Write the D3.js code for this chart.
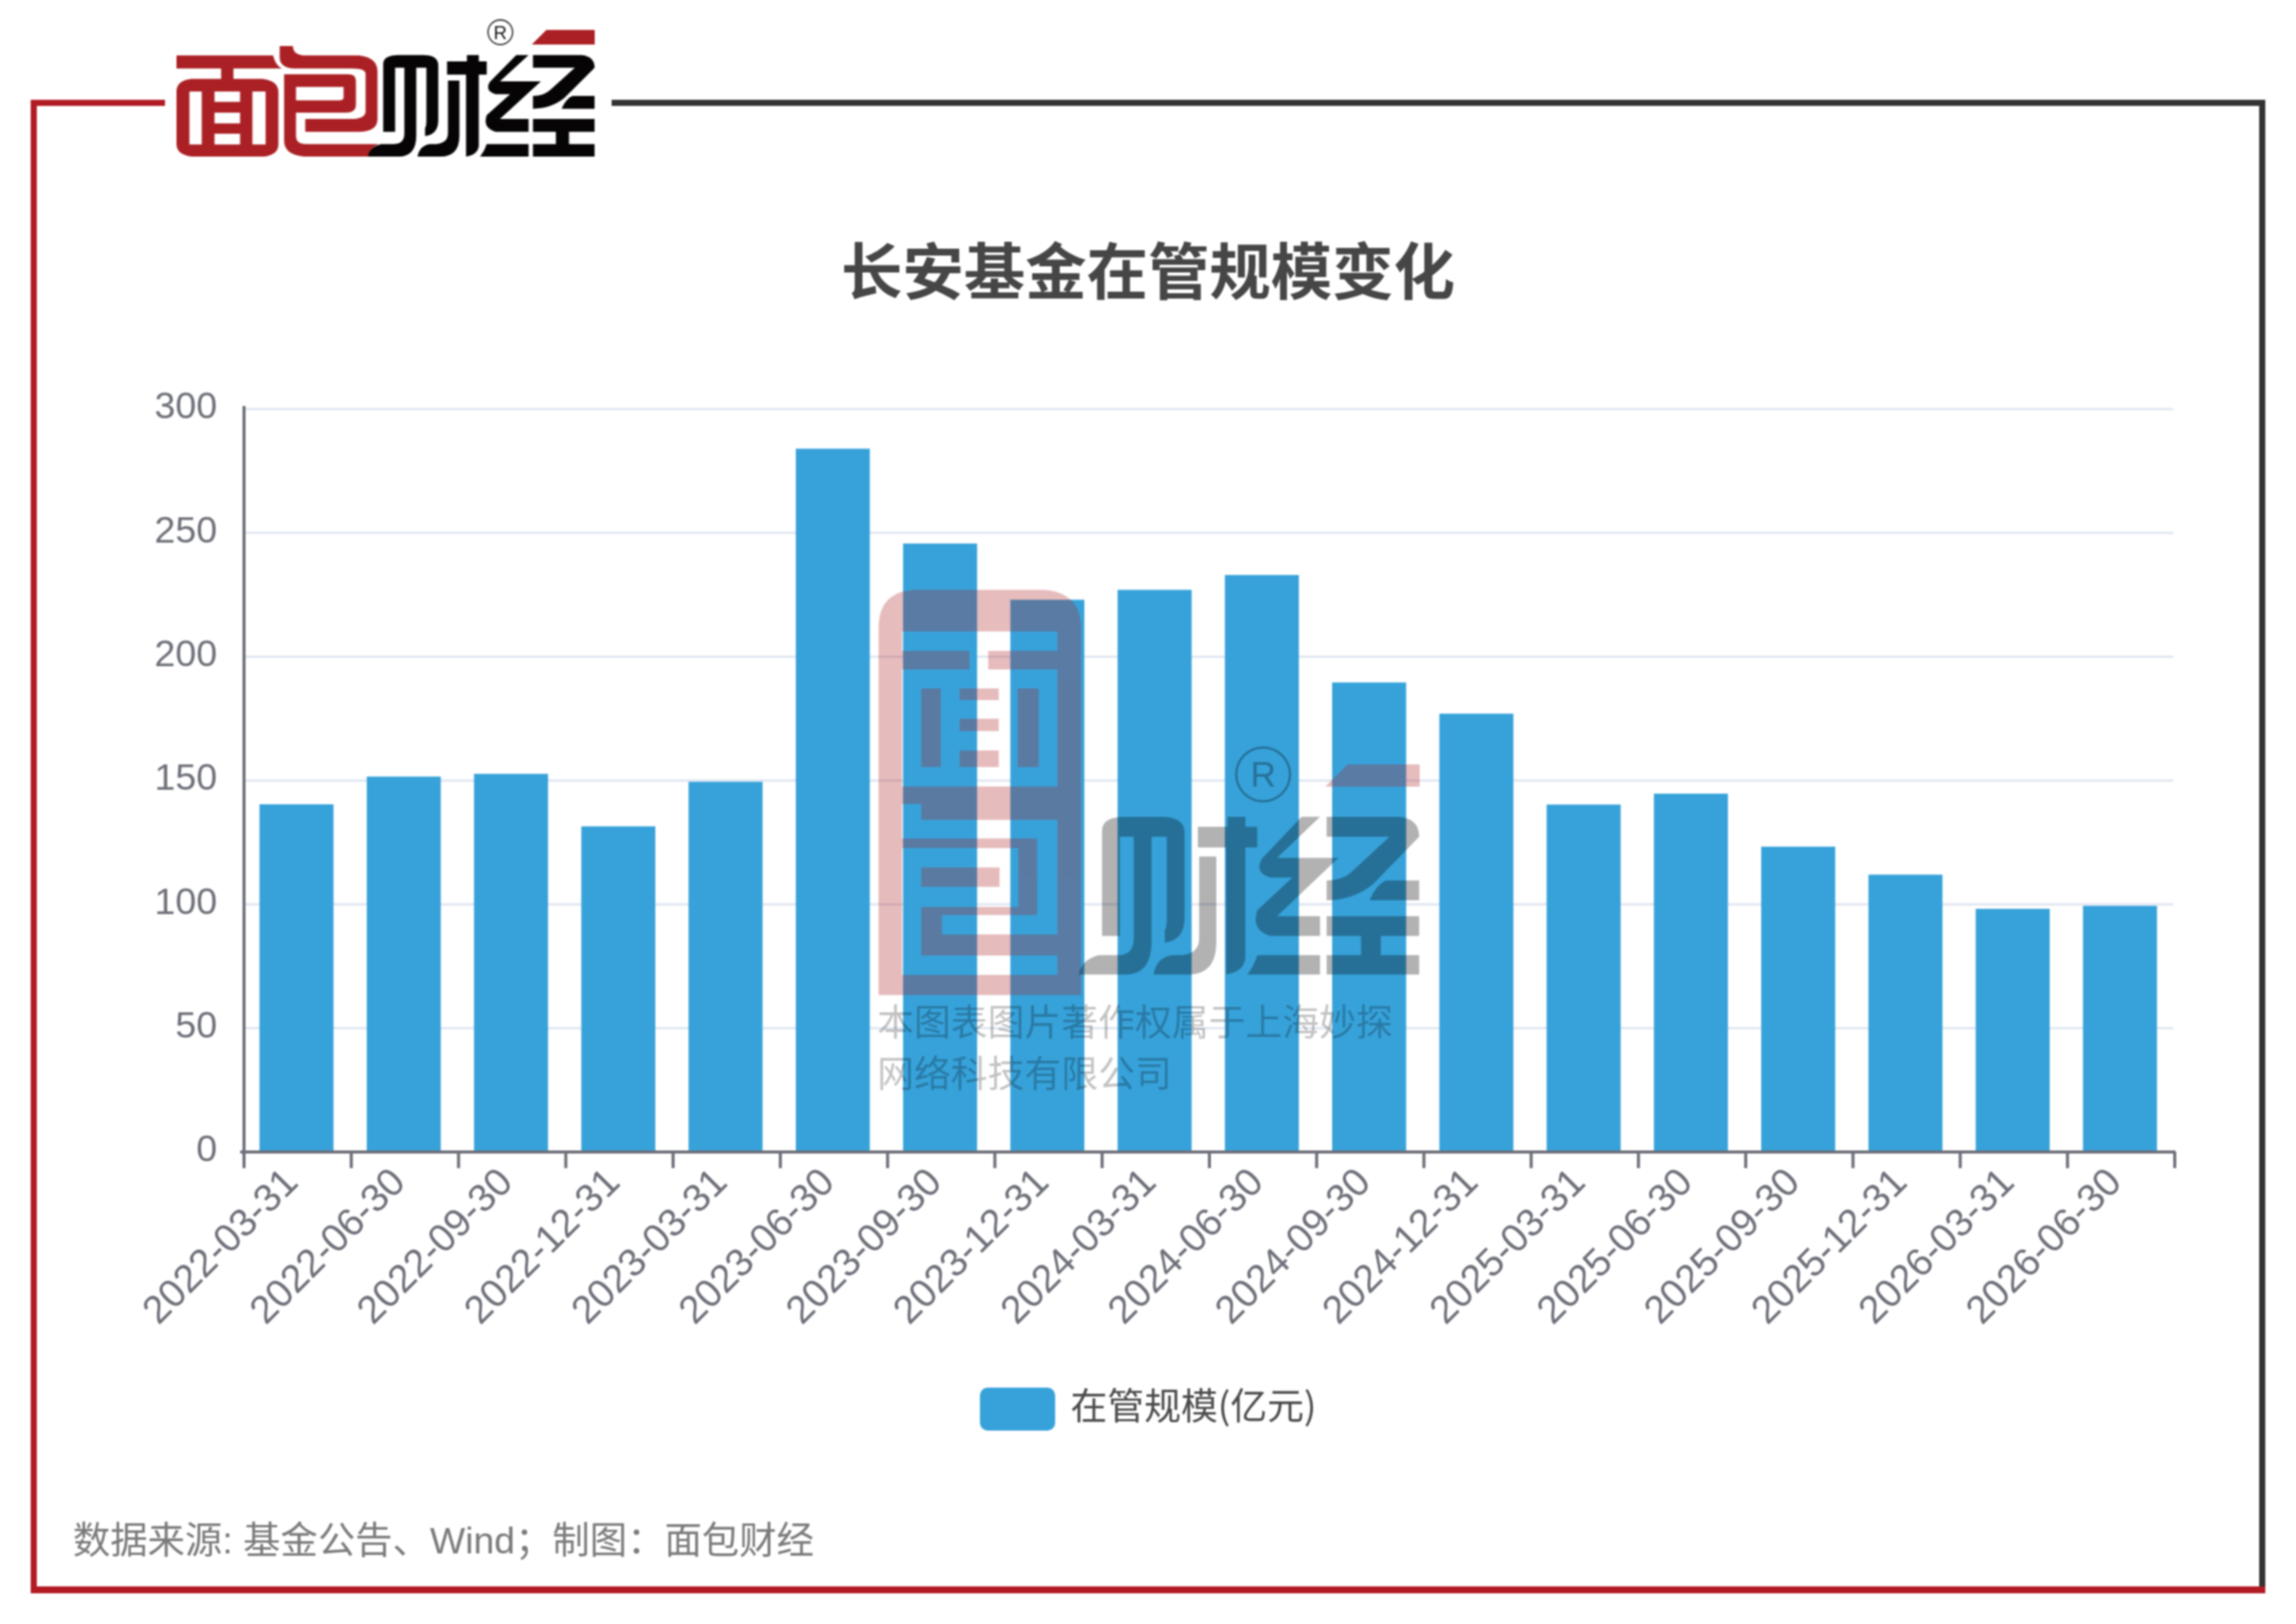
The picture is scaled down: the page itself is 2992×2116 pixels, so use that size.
<!DOCTYPE html>
<html><head><meta charset="utf-8">
<script src="https://cdn.jsdelivr.net/npm/d3@7/dist/d3.min.js"></script>
<style>
html,body{margin:0;padding:0;background:#fff;}
svg{display:block;}
.blur{filter:blur(1px);}
text{font-family:"Liberation Sans","Noto Sans CJK SC",sans-serif;}
</style></head><body><div id="chart"></div>
<script>
const categories=["2022-03-31","2022-06-30","2022-09-30","2022-12-31","2023-03-31","2023-06-30","2023-09-30","2023-12-31","2024-03-31","2024-06-30","2024-09-30","2024-12-31","2025-03-31","2025-06-30","2025-09-30","2025-12-31","2026-03-31","2026-06-30"];
const aumValues=[140.4,151.6,152.7,131.5,149.5,284,245.7,223,227,233,189.6,177,140.3,144.7,123.3,112,98.2,99.4];
const yTicks=[0,50,100,150,200,250,300];
const titleText="长安基金在管规模变化";
const legendText="在管规模(亿元)";
const sourceText="数据来源: 基金公告、Wind；制图：面包财经";
const watermarkLines=["本图表图片著作权属于上海妙探","网络科技有限公司"];

const W=2992,H=2116;
const RED="#AB2024",FRAME_RED="#B21B24",DARK="#333333",BLUE="#37A2DA",AXIS="#6E7079",GRID="#E0E6F1";
const svg=d3.select("#chart").append("svg").attr("width",W).attr("height",H).attr("viewBox",`0 0 ${W} ${H}`);
const root=svg.append("g").attr("class","blur");

// frame
const line=(x1,y1,x2,y2,c,w)=>root.append("line").attr("x1",x1).attr("y1",y1).attr("x2",x2).attr("y2",y2).attr("stroke",c).attr("stroke-width",w);
line(797,134,2952,134,DARK,8);
line(2948,130,2948,2068,DARK,8);
line(40,134,215,134,FRAME_RED,8);
line(44,130,44,2076,FRAME_RED,8);
line(40,2071.5,2952,2071.5,FRAME_RED,9);

// scales
const margin={left:318,right:2834,top:533,bottom:1501};
const x=d3.scaleBand().domain(categories).range([margin.left,margin.right]).paddingInner(0.31).paddingOuter(0.155);
const y=d3.scaleLinear().domain([0,300]).range([margin.bottom,margin.top]);
const barNudge=-1.5;

// grid
root.append("g").selectAll("line").data(yTicks.filter(d=>d>0)).join("line")
  .attr("x1",margin.left+2).attr("x2",margin.right-2)
  .attr("y1",d=>y(d)).attr("y2",d=>y(d)).attr("stroke",GRID).attr("stroke-width",3);

// bars
root.append("g").attr("transform",`translate(${barNudge},0)`).selectAll("rect").data(aumValues).join("rect")
  .attr("x",(d,i)=>x(categories[i])).attr("width",x.bandwidth())
  .attr("y",d=>y(d)).attr("height",d=>y(0)-y(d)).attr("fill",BLUE);

// y axis
const yAxis=root.append("g").attr("transform",`translate(${margin.left},0)`)
  .call(d3.axisLeft(y).tickValues(yTicks).tickSize(0).tickPadding(35));
yAxis.select(".domain").attr("stroke",AXIS).attr("stroke-width",4).attr("d",`M0,${margin.top-4}V${margin.bottom}`);
yAxis.selectAll("text").attr("font-size",49).attr("fill",AXIS).attr("dy","0.24em")
  .style("font-family",'"Liberation Sans",sans-serif');

// x axis
const xAxis=root.append("g").attr("transform",`translate(0,${margin.bottom})`)
  .call(d3.axisBottom(x).tickSize(0).tickPadding(0));
xAxis.select(".domain").attr("stroke",AXIS).attr("stroke-width",4).attr("d",`M${margin.left-5},0H${margin.right+1}`);
const step=x.step(), gap=(step-x.bandwidth())/2;
const edges=categories.map(c=>x(c)-gap).concat([margin.right]);
xAxis.append("g").selectAll("line").data(edges).join("line")
  .attr("x1",d=>d).attr("x2",d=>d).attr("y1",0).attr("y2",21).attr("stroke",AXIS).attr("stroke-width",4);
xAxis.selectAll(".tick text")
  .attr("text-anchor","end").attr("font-size",51).attr("fill",AXIS).attr("y",0).attr("dy",0)
  .attr("transform","translate(3,42) rotate(-45)")
  .style("font-family",'"Liberation Sans",sans-serif');

// title, legend, source
root.append("text").text(titleText).attr("x",1496).attr("y",348).attr("text-anchor","middle").attr("dominant-baseline","central")
  .attr("font-size",80).attr("font-weight",700).attr("fill","#464646").style("font-family",'"Noto Sans CJK SC",sans-serif');
root.append("rect").attr("x",1277).attr("y",1808).attr("width",98).attr("height",56).attr("rx",10).attr("fill",BLUE);
root.append("text").text(legendText).attr("x",1395).attr("y",1828).attr("dominant-baseline","central")
  .attr("font-size",48).attr("fill","#4a4a4a").style("font-family",'"Noto Sans CJK SC",sans-serif');
root.append("text").text(sourceText).attr("x",95).attr("y",2007).attr("dominant-baseline","central")
  .attr("font-size",48.7).attr("fill","#7a7a7a");

// brand artwork (paths in the crop space they were traced in)
const miandao=[
 "M401 217H620Q625 255 640 268H530V308H595Q632 315 632 360V565Q632 605 600 612H435Q401 605 401 565V355Q401 315 435 308H502V268H401Z"+
 "M430 358V565H458V358ZM573 358V565H603V358ZM487 358V398H545V358ZM487 440V482H545V440ZM487 523V565H545V523Z",
 "M635 180H665Q665 217 695 217H815Q857 225 857 280V465Q857 515 815 515H693V465H805Q830 460 830 435V290Q830 268 800 268H665Q635 262 635 225Z",
 "M645 290H790Q808 290 808 315V410Q808 440 785 440H672V530Q672 563 695 563H860Q840 575 835 612H690Q645 605 645 550ZM672 340V392H770Q780 392 780 380V340Z"
];
const caijing=[
 "M870 515V250Q870 215 905 215H960Q995 215 995 255V470Q995 525 965 532V500Q968 495 968 470V265H945V530Q945 612 905 612H835Q838 575 865 563H895Q918 563 918 520V265H897V515Z",
 "M1017 315H1043V530Q1043 612 1000 612H948Q952 570 975 563H990Q1017 560 1017 520Z",
 "M1060 215H1087V240H1105V292H1087V570Q1085 605 1058 612V292H1015V240H1060Z",
 "M1172 215H1200L1135 318H1228L1135 465H1200V515H1125Q1095 500 1105 450L1158 368H1125Q1100 355 1112 320Z",
 "M1105 563H1200V612H1090Q1100 590 1105 563Z",
 "M1210 215H1320Q1350 220 1350 265L1280 385Q1250 425 1210 425V375Q1235 375 1250 350L1305 265H1210Z",
 "M1300 375H1350V425H1275Q1285 385 1300 375Z",
 "M1210 465H1350V515H1292V563H1350V612H1210V563H1262V515H1210Z"
];
const headerTf="scale(0.574,0.3333)";
const drawPaths=(g,list,fill)=>g.selectAll(null).data(list).join("path").attr("d",d=>d).attr("fill",fill).attr("fill-rule","evenodd");
const logo=root.append("g").attr("transform",headerTf);
drawPaths(logo,miandao,RED);
drawPaths(logo,caijing,"#060404");
root.append("path").attr("d","M693 58L712 39H775V58Z").attr("fill",RED);
root.append("ellipse").attr("cx",652).attr("cy",42).attr("rx",16).attr("ry",16).attr("fill","none").attr("stroke","#333").attr("stroke-width",1.8);
root.append("text").text("R").attr("x",652).attr("y",42).attr("text-anchor","middle").attr("dominant-baseline","central").attr("font-size",24).attr("fill","#111");

// watermark, above the bars
const wmRed=root.append("g").attr("opacity",0.3).attr("transform","translate(1100,740) scale(0.5102,0.4591)");
wmRed.append("path").attr("fill",RED).attr("fill-rule","evenodd").attr("d",
 "M88 1212V170Q88 62 190 62H510Q605 70 605 170V1212Z"+
 "M148 180V235H320V288H148V620H545V288H368V235H545V180Z"+
 "M148 670V768H493V985H250V1040H545V715H197V670ZM148 795V1155H545V1100H197V962H445V795Z");
wmRed.append("g").selectAll("rect").data([[197,342,50,223],[443,342,54,223],[295,342,100,33],[295,428,100,35],[295,518,100,47],[197,850,200,55]])
  .join("rect").attr("x",d=>d[0]).attr("y",d=>d[1]).attr("width",d=>d[2]).attr("height",d=>d[3]).attr("fill",RED);
root.append("path").attr("d","M1727 1025L1756 996H1850V1025Z").attr("fill",RED).attr("opacity",0.3);
const wmGrey=root.append("g").attr("opacity",0.3);
drawPaths(wmGrey.append("g").attr("transform","translate(687,953) scale(0.861,0.5177)"),caijing,"#000");
const wmR=root.append("g").attr("opacity",0.3);
wmR.append("ellipse").attr("cx",1646).attr("cy",1009).attr("rx",35).attr("ry",35).attr("fill","none").attr("stroke","#000").attr("stroke-width",3);
wmR.append("text").text("R").attr("x",1646).attr("y",1009).attr("text-anchor","middle").attr("dominant-baseline","central").attr("font-size",46).attr("fill","#000");
root.append("g").selectAll("text").data(watermarkLines).join("text").text(d=>d)
  .attr("x",1143).attr("y",(d,i)=>1328+i*67).attr("dominant-baseline","central")
  .attr("font-size",48).attr("fill","#000").attr("opacity",0.24).style("font-family",'"Noto Sans CJK SC",sans-serif');
</script></body></html>
